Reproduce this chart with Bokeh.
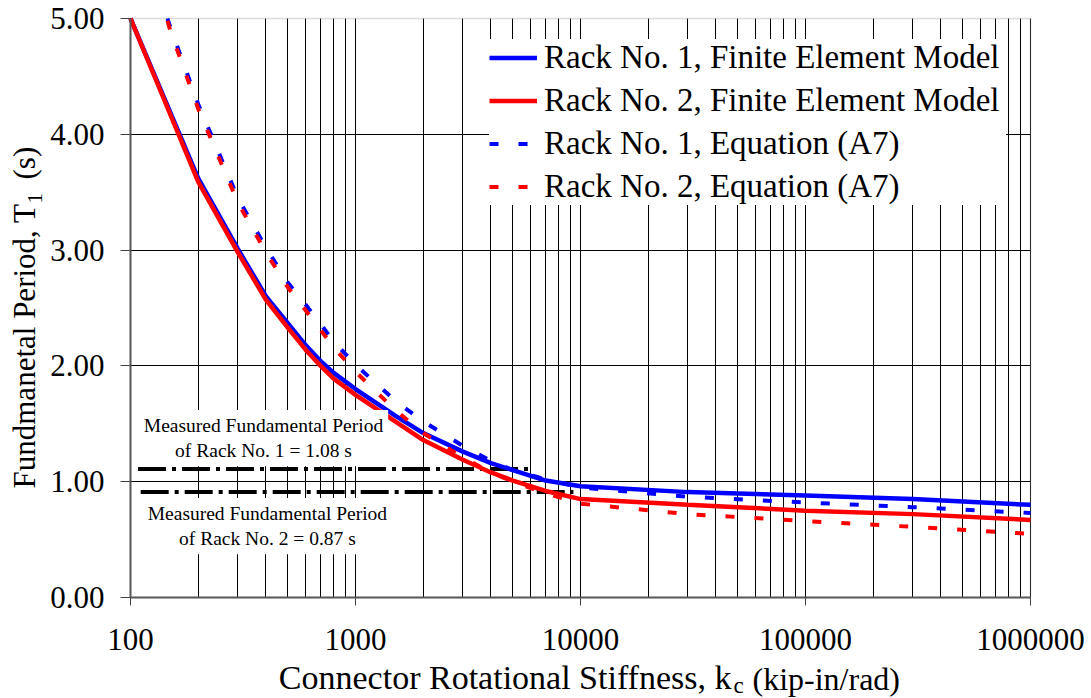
import math
from bokeh.plotting import figure
from bokeh.models import (Range1d, Label, Legend, LegendItem, FixedTicker,
                          NumeralTickFormatter, PrintfTickFormatter, BoxAnnotation)
from bokeh.embed import file_html
from bokeh.resources import INLINE

# ---------------- data ----------------
k_fe = [100, 200, 300, 400, 500, 600, 700, 800, 1000, 1500, 2000, 3000, 4000,
        5000, 7000, 10000, 30000, 100000, 300000, 1000000]
T_fe_rack1 = [5.00, 3.62, 3.01, 2.60, 2.37, 2.18, 2.04, 1.94, 1.80, 1.57, 1.42,
              1.26, 1.16, 1.10, 1.01, 0.96, 0.91, 0.88, 0.85, 0.80]
T_fe_rack2 = [5.00, 3.59, 2.98, 2.57, 2.33, 2.14, 2.00, 1.89, 1.75, 1.52, 1.36,
              1.19, 1.08, 1.01, 0.92, 0.85, 0.80, 0.75, 0.72, 0.67]

k_eq = [146, 150, 200, 300, 400, 500, 600, 700, 800, 1000, 1500, 2000, 3000,
        4000, 5000, 7000, 10000, 30000, 100000, 300000, 1000000]
T_eq_rack1 = [5.00, 4.93, 4.26, 3.45, 3.02, 2.72, 2.53, 2.36, 2.21, 2.01, 1.70,
              1.52, 1.31, 1.18, 1.10, 1.02, 0.95, 0.87, 0.82, 0.78, 0.73]
T_eq_rack2 = [4.98, 4.90, 4.22, 3.41, 2.98, 2.68, 2.48, 2.31, 2.16, 1.95, 1.62,
              1.42, 1.21, 1.08, 1.00, 0.90, 0.81, 0.72, 0.66, 0.61, 0.55]

meas_k_start = [108, 111]
meas_k_end = [5980, 9300]
meas_T_drawn = [1.11, 0.91]
meas_text = ["Measured Fundamental Period\nof Rack No. 1 = 1.08 s",
             "Measured Fundamental Period\nof Rack No. 2 = 0.87 s"]
meas_text_k = [390, 406]
meas_text_T = [1.377, 0.617]

series_labels = ["Rack No. 1, Finite Element Model",
                 "Rack No. 2, Finite Element Model",
                 "Rack No. 1, Equation (A7)",
                 "Rack No. 2, Equation (A7)"]

x_min, x_max = 100, 1000000
y_min, y_max = 0, 5
x_major = [100, 1000, 10000, 100000, 1000000]
x_minor = [m * d for d in [100, 1000, 10000, 100000] for m in range(2, 10)]
y_ticks = [0, 1, 2, 3, 4, 5]

FONT = "Liberation Serif"
W, H = 1091, 698
FL, FR, FT, FB = 130, 1030, 18, 597   # plot-area edges in picture pixels

# the frame covers the whole canvas; axes sit at fixed data locations so that
# titles (with subscripts) can be drawn anywhere on the canvas
px_per_dec = (FR - FL) / math.log10(x_max / x_min)
px_per_unit = (FB - FT) / (y_max - y_min)
xr = Range1d(10 ** (math.log10(x_min) - FL / px_per_dec),
             10 ** (math.log10(x_max) + (W - FR) / px_per_dec))
yr = Range1d(y_min - (H - FB) / px_per_unit, y_max + FT / px_per_unit)

p = figure(width=W, height=H, x_axis_type="log", x_range=xr, y_range=yr,
           output_backend="svg", toolbar_location=None,
           min_border=0, min_border_left=0, min_border_right=0,
           min_border_top=0, min_border_bottom=0)
p.background_fill_color = "white"
p.border_fill_color = "white"
p.outline_line_color = None

xt = FixedTicker(ticks=x_major, minor_ticks=x_minor)
p.xaxis.ticker = xt
p.xgrid.ticker = xt
p.xaxis.formatter = NumeralTickFormatter(format="0")
p.yaxis.ticker = FixedTicker(ticks=y_ticks)
p.ygrid.ticker = FixedTicker(ticks=y_ticks[1:-1])
p.yaxis.formatter = PrintfTickFormatter(format="%.2f")

p.xaxis.fixed_location = y_min
p.yaxis.fixed_location = x_min
p.xaxis.bounds = (x_min, x_max)
p.yaxis.bounds = (y_min, y_max)

for ax in (p.xaxis[0], p.yaxis[0]):
    ax.axis_line_color = "#595959"
    ax.axis_line_width = 2
    ax.major_tick_line_color = "#404040"
    ax.major_tick_line_width = 1
    ax.major_tick_in = 0
    ax.minor_tick_line_color = None
    ax.major_label_text_font = FONT
    ax.major_label_text_font_size = "31px"
    ax.major_label_text_color = "black"
p.xaxis.major_tick_out = 8
p.yaxis.major_tick_out = 10
p.xaxis.major_label_standoff = 23
p.yaxis.major_label_standoff = 16

p.xgrid.grid_line_color = "black"
p.xgrid.grid_line_width = 1
p.xgrid.minor_grid_line_color = "black"
p.xgrid.minor_grid_line_width = 1
p.xgrid.bounds = (x_min, x_max)
p.xgrid.cross_bounds = (y_min, y_max)
p.ygrid.grid_line_color = "black"
p.ygrid.grid_line_width = 1
p.ygrid.bounds = (y_min, y_max)
p.ygrid.cross_bounds = (x_min, x_max)

# plot-area border (grey, as in the reference)
p.add_layout(BoxAnnotation(left=x_min, right=x_max, bottom=y_min, top=y_max,
                           fill_alpha=0, line_color="#8c8c8c", line_width=1.5,
                           level="underlay"))

# measured period lines
for ks, ke, t in zip(meas_k_start, meas_k_end, meas_T_drawn):
    p.line([ks, ke], [t, t], line_color="black", line_width=4,
           line_dash="28 6 4 6")

r1 = p.line(k_fe, T_fe_rack1, line_color="#0000FF", line_width=4.5)
r2 = p.line(k_fe, T_fe_rack2, line_color="#FF0000", line_width=4.5)
r3 = p.line(k_eq, T_eq_rack1, line_color="#0000FF", line_width=4, line_dash="9 20")
r4 = p.line(k_eq, T_eq_rack2, line_color="#FF0000", line_width=4, line_dash="9 20")

legend = Legend(items=[LegendItem(label=l, renderers=[r])
                       for l, r in zip(series_labels, [r1, r2, r3, r4])],
                location=(489, H - 205))
legend.label_text_font = FONT
legend.label_text_font_size = "33px"
legend.label_text_color = "black"
legend.glyph_width = 48
legend.glyph_height = 37
legend.label_height = 37
legend.spacing = 6
legend.padding = 5
legend.margin = 0
legend.label_standoff = 7
legend.label_width = 462
legend.border_line_color = None
legend.background_fill_color = "white"
legend.background_fill_alpha = 1.0
p.add_layout(legend)

for txt, kx, ty in zip(meas_text, meas_text_k, meas_text_T):
    p.add_layout(Label(x=kx, y=ty, text=txt, text_align="center",
                       text_baseline="middle", text_font=FONT,
                       text_font_size="19.5px", text_color="black",
                       background_fill_color="white", background_fill_alpha=1.0,
                       padding=5))

# axis titles (with subscripts); screen units from the canvas' bottom-left.
# BASE_SHIFT compensates the observed offset of the alphabetic baseline.
BASE_SHIFT = 0.34

def title_part(px, py, text, size_px, align, angle=0.0):
    shift = BASE_SHIFT * size_px
    if angle:
        sx, sy = px - shift, H - py
    else:
        sx, sy = px, H - py + shift
    p.add_layout(Label(x=sx, y=sy, x_units="screen", y_units="screen",
                       text=text, text_align=align, text_baseline="alphabetic",
                       angle=angle, text_font=FONT,
                       text_font_size=f"{size_px}px", text_color="black"))

# x title
title_part(731, 689, "Connector Rotational Stiffness, k", 34, "right")
title_part(733, 693, "c", 23, "left")
title_part(752, 689, "(kip-in/rad)", 32, "left")

# y title (rotated)
title_part(35, 203, "Fundmanetal Period, T", 31, "right", math.pi / 2)
title_part(42, 203, "1", 21, "left", math.pi / 2)
title_part(35, 179, "(s)", 31, "left", math.pi / 2)

open("out.html", "w").write(file_html(p, INLINE))
